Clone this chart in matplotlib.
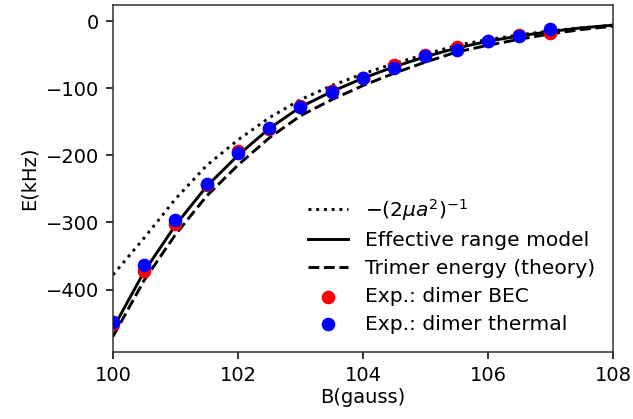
import matplotlib
matplotlib.use("Agg")
import matplotlib.pyplot as plt

# Theory curves, B in gauss, E in kHz
B_curve = [100.0, 100.5, 101.0, 101.5, 102.0, 102.5, 103.0, 103.5, 104.0,
           104.5, 105.0, 105.5, 106.0, 106.5, 107.0, 107.5, 108.0]
E_universal = [-378, -323, -265, -215, -177, -144, -117, -96, -78.5,
               -63, -49.5, -36, -27.5, -20.5, -14.5, -10, -6]
E_eff_range = [-458, -373, -304, -246, -200, -160, -128, -105, -85,
               -68, -53, -40, -30, -22, -15.5, -10, -6]
E_trimer = [-470, -386, -318, -260.5, -214.5, -174, -141, -117, -96,
            -77.5, -61, -46, -36, -27, -19, -12.5, -7.5]

# Experimental points
B_exp = [100.0, 100.5, 101.0, 101.5, 102.0, 102.5, 103.0, 103.5, 104.0,
         104.5, 105.0, 105.5, 106.0, 106.5, 107.0]
E_bec = [-451, -372, -303, -244, -194, -160, -127, -104, -85,
         -65, -51, -38, -29, -20, -17]
E_thermal = [-449, -364, -297, -242, -197, -159, -128, -105, -85,
             -70, -52, -43, -29, -22, -12]

labels = [r"$-(2\mu a^2)^{-1}$", "Effective range model",
          "Trimer energy (theory)", "Exp.: dimer BEC", "Exp.: dimer thermal"]

fig = plt.figure(figsize=(633 / 140, 419 / 140), dpi=140)
ax = fig.add_axes([0.1785, 0.160, 0.7899, 0.828])

l1, = ax.plot(B_curve, E_universal, color="black", linestyle=":")
l2, = ax.plot(B_curve, E_eff_range, color="black", linestyle="-")
l3, = ax.plot(B_curve, E_trimer, color="black", linestyle="--")
s1 = ax.scatter(B_exp, E_bec, color="red", zorder=3)
s2 = ax.scatter(B_exp, E_thermal, color="blue", zorder=4)

ax.set_xlim(100, 108)
ax.set_ylim(-493, 24)
ax.set_xticks([100, 102, 104, 106, 108])
ax.set_yticks([0, -100, -200, -300, -400])
ax.set_xlabel("B(gauss)", labelpad=2)
ax.set_ylabel("E(kHz)")
for sp in ax.spines.values():
    sp.set_color("#333333")

ax.legend([l1, l2, l3, s1, s2], labels, loc="lower right", frameon=False,
          fontsize=10.45, labelspacing=0.43)

fig.savefig("out.png", dpi=140)
